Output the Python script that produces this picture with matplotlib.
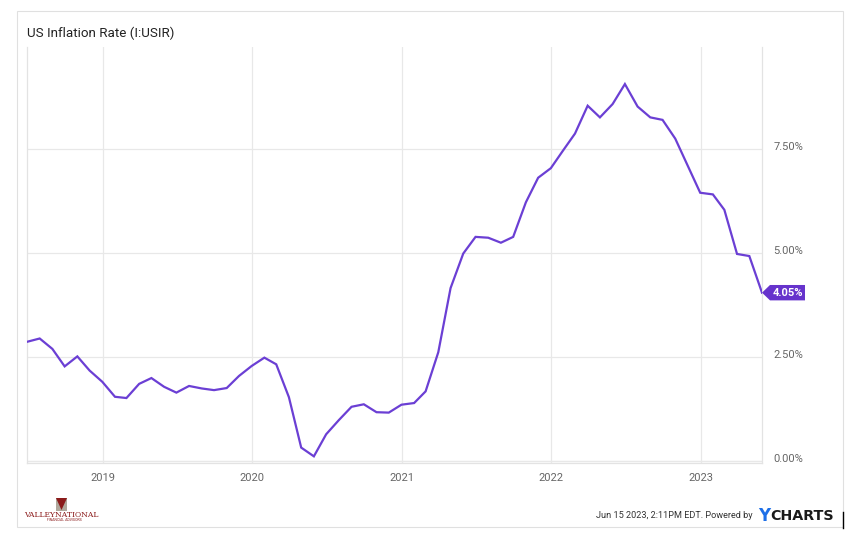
import matplotlib
matplotlib.use("Agg")
import matplotlib.pyplot as plt
import matplotlib.dates as mdates
import matplotlib.transforms as mtransforms
from matplotlib.patches import Rectangle, Polygon
import pandas as pd

plt.rcParams['font.family'] = ['Roboto', 'DejaVu Sans']

dates = pd.date_range("2018-06-30", "2023-05-31", freq="ME")
values = [2.87, 2.95, 2.70, 2.28, 2.52, 2.18, 1.91,
          1.55, 1.52, 1.86, 2.00, 1.79, 1.65, 1.81, 1.75, 1.71, 1.76, 2.05, 2.29,
          2.49, 2.33, 1.54, 0.33, 0.12, 0.65, 0.99, 1.31, 1.37, 1.18, 1.17, 1.36,
          1.40, 1.68, 2.62, 4.16, 4.99, 5.39, 5.37, 5.25, 5.39, 6.22, 6.81, 7.04,
          7.48, 7.87, 8.54, 8.26, 8.58, 9.06, 8.52, 8.26, 8.20, 7.75, 7.11, 6.45,
          6.41, 6.04, 4.98, 4.93, 4.05]
year_ticks = pd.to_datetime(["2019-01-01", "2020-01-01", "2021-01-01", "2022-01-01", "2023-01-01"])
year_labels = ["2019", "2020", "2021", "2022", "2023"]
y_ticks = [0, 2.5, 5, 7.5]
y_labels = ["0.00%", "2.50%", "5.00%", "7.50%"]
title = "US Inflation Rate (I:USIR)"
last_label = "4.05%"

W, H = 859, 539
fig = plt.figure(figsize=(W / 100, H / 100), dpi=100)
ax = fig.add_axes([27 / W, 1 - 463 / H, (762 - 27) / W, (463 - 47) / H])

line_color = "#6b3fd4"
tag_color = "#6633cc"
grid_color = "#e8e8e8"
ax.plot(dates, values, color=line_color, lw=1.6, solid_joinstyle="miter", zorder=3)

ax.set_xlim(dates[0], dates[-1])
ax.set_ylim(-0.04, 9.95)
ax.set_xticks(year_ticks)
ax.set_xticklabels(year_labels)
ax.set_yticks(y_ticks)
ax.set_yticklabels(y_labels)
ax.yaxis.tick_right()
ax.tick_params(axis="both", length=0, colors="#666666", labelsize=8)
ax.tick_params(axis="x", pad=7)
ax.tick_params(axis="y", pad=8)
shift = mtransforms.ScaledTranslation(0, 3.5 / 100, fig.dpi_scale_trans)
for lab in ax.get_yticklabels():
    lab.set_transform(lab.get_transform() + shift)
ax.grid(True, color=grid_color, lw=0.9)
ax.set_axisbelow(True)
ax.spines["top"].set_visible(False)
for s in ["left", "right", "bottom"]:
    ax.spines[s].set_color("#e3e3e3")
    ax.spines[s].set_linewidth(0.9)
ax.axhline(0, color=grid_color, lw=0.9, zorder=1)

# last-value tag (arrow-shaped), built in display pixels from the last data point
px, py = ax.transData.transform((mdates.date2num(dates[-1]), values[-1]))
tag = Polygon([[px, py], [px + 8, py + 7.7], [px + 43, py + 7.7],
               [px + 43, py - 7.7], [px + 8, py - 7.7]], closed=True,
              transform=None, fc=tag_color, ec="none", zorder=5, clip_on=False)
fig.patches.append(tag)
fig.text((px + 25.5) / W, py / H, last_label, fontsize=8, color="white",
         fontweight="bold", ha="center", va="center", zorder=6)

# frame
fig.patches.append(Rectangle((17 / W, 1 - 527 / H), (843 - 17) / W, (527 - 11) / H,
                             transform=fig.transFigure, fill=False, ec="#e0e0e0", lw=0.8))
fig.text(27 / W, 1 - 33 / H, title, fontsize=9.6, color="#222222", va="center", ha="left")

# footer
fig.text(770 / W, 1 - 516 / H, "CHARTS", fontsize=10.3, fontweight="bold", color="#1a1a1a",
         va="center", ha="left", family="DejaVu Sans")
fig.text(770 / W, 1 - 516 / H, "Y", fontsize=12, fontweight="bold", color="#1d6fe8",
         va="center", ha="right", family="DejaVu Sans")
fig.text(753 / W, 1 - 516 / H, "Jun 15 2023, 2:11PM EDT. Powered by", fontsize=6.6,
         color="#333333", va="center", ha="right")
fig.lines.append(plt.Line2D([843 / W, 843 / W], [1 - 528 / H, 1 - 512 / H],
                            transform=fig.transFigure, color="black", lw=1))
# logo
fig.patches.append(Polygon([[56 / W, 1 - 498 / H], [67 / W, 1 - 498 / H], [67 / W, 1 - 511 / H], [56 / W, 1 - 511 / H]],
                           closed=True, transform=fig.transFigure, fc="#b0a89c", ec="none"))
fig.patches.append(Polygon([[56 / W, 1 - 498 / H], [67 / W, 1 - 498 / H], [61.5 / W, 1 - 510 / H]],
                           closed=True, transform=fig.transFigure, fc="#8b1a1a", ec="none"))
fig.text(61 / W, 1 - 515 / H, "VALLEYNATIONAL", fontsize=5.5, color="#8b1a1a", family="DejaVu Serif",
         va="center", ha="center")
fig.text(64 / W, 1 - 520 / H, "FINANCIAL ADVISORS", fontsize=2.5, color="#8b1a1a",
         va="center", ha="center")

fig.savefig("out.png", dpi=100)
